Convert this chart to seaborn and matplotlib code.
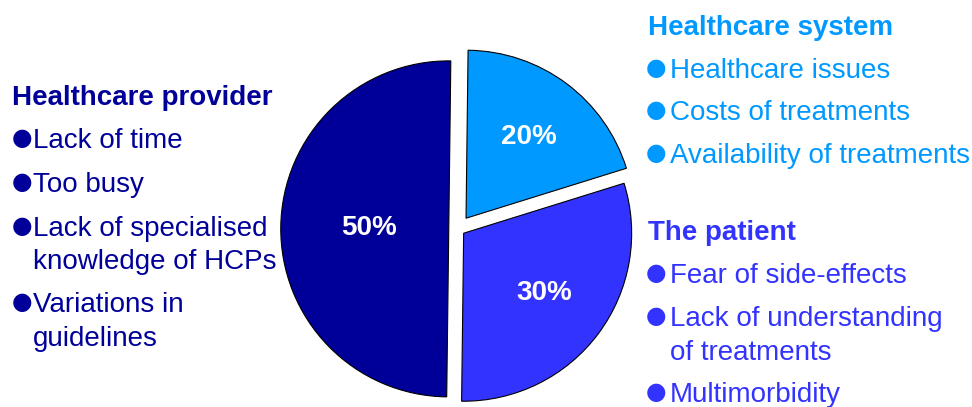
import matplotlib
matplotlib.use("Agg")
import matplotlib.pyplot as plt
import seaborn as sns

# pie data (counter-clockwise from the top)
groups = ["Healthcare provider", "The patient", "Healthcare system"]
shares = [50, 30, 20]
colors = ["#000099", "#3333FF", "#0099FF"]

# text blocks around the pie
provider_items = ["Lack of time", "Too busy", "Lack of specialised\nknowledge of HCPs",
                  "Variations in\nguidelines"]
system_items = ["Healthcare issues", "Costs of treatments", "Availability of treatments"]
patient_items = ["Fear of side-effects", "Lack of understanding\nof treatments", "Multimorbidity"]

sns.set_theme(style="white")
plt.rcParams["font.family"] = ["Liberation Sans", "DejaVu Sans"]

W, H = 972, 407
R = 168
fig = plt.figure(figsize=(W / 100, H / 100), dpi=100)
ax = fig.add_axes([0, 0, 1, 1])

# matplotlib applies explode in data units, so scale by the radius
explode = [f * R for f in (0.055, 0.042, 0.08)]
wedges, texts, autotexts = ax.pie(
    shares, colors=colors, explode=explode, startangle=89.3,
    center=(458, H - 229), radius=R, frame=True,
    autopct="%d%%", pctdistance=0.6,
    wedgeprops=dict(edgecolor="black", linewidth=0.8),
    textprops=dict(color="white", fontsize=20, fontweight="bold"),
)
# pull the 50% label a bit towards the centre
x0, y0 = autotexts[0].get_position()
autotexts[0].set_position((x0 + 21, y0))
x2, y2 = autotexts[2].get_position()
autotexts[2].set_position((x2 + 3, y2))

ax.set_xlim(0, W)
ax.set_ylim(0, H)
ax.axis("off")


def block(x_head, x_bullet, x_text, y_head, title, items, color, gap=43.5, wrap=33.5):
    # y values are baselines measured from the top of the image
    ax.text(x_head, H - y_head, title, color=color, fontsize=20,
            fontweight="bold", va="baseline", ha="left")
    y = y_head
    for item in items:
        y += gap
        ax.text(x_bullet, H - y + 3, "\u25cf", color=color, fontsize=17,
                family="DejaVu Sans", va="baseline", ha="left")
        for k, line in enumerate(item.split("\n")):
            ax.text(x_text, H - (y + k * wrap), line, color=color,
                    fontsize=20, va="baseline", ha="left")
        y += wrap * (len(item.split("\n")) - 1)


block(12, 12, 33, 105, groups[0], provider_items, colors[0])
block(648, 646, 670, 35, groups[2], system_items, colors[2], gap=42.7)
block(648, 646, 670, 240, groups[1], patient_items, colors[1], gap=43)

fig.savefig("out.png", dpi=100)
